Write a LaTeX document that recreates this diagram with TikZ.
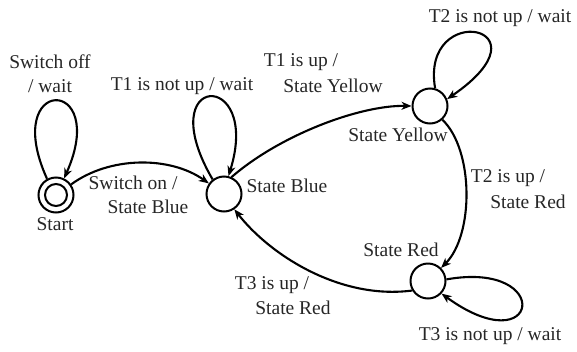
\documentclass[tikz,border=0pt]{standalone}
\usepackage{fontspec}
\setmainfont{Liberation Serif}
\usetikzlibrary{arrows.meta}
\begin{document}
\begin{tikzpicture}[x=1pt,y=-1pt,
  every node/.style={font=\fontsize{19.5}{22}\selectfont, inner sep=0pt},
  statebox/.style={circle, draw, line width=2pt, minimum size=35pt},
  lbl/.style={text=black!85},
  arr/.style={line width=2.1pt, -{Stealth[length=10pt,width=8pt,inset=3pt]}}]
\useasboundingbox (0,0) rectangle (577,351);
% states
\node[statebox] (start) at (56,195) {};
\node[circle, draw, line width=2pt, minimum size=22pt] (startin) at (start) {};
\node[statebox] (blue) at (224,194) {};
\node[statebox] (yellow) at (430,106) {};
\node[statebox] (red) at (428,281) {};
% state labels
\node[lbl] (lstart) at (55,224) {Start};
\node[lbl] (lblue) at (287,186) {State Blue};
\node[lbl] (lyellow) at (398,135) {State Yellow};
\node[lbl] (lred) at (401,250) {State Red};
% transition labels
\node[lbl] (t0a) at (50,62) {Switch off};
\node[lbl] (t0b) at (50,86) {/ wait};
\node[lbl] (t1a) at (133,183) {Switch on /};
\node[lbl] (t1b) at (148,207) {State Blue};
\node[lbl] (t2) at (182,86) {T1 is not up / wait};
\node[lbl] (t3a) at (301,62) {T1 is up /};
\node[lbl] (t3b) at (333,86) {State Yellow};
\node[lbl] (t4) at (500,18) {T2 is not up / wait};
\node[lbl] (t5a) at (508,178) {T2 is up /};
\node[lbl] (t5b) at (528,202) {State Red};
\node[lbl] (t6a) at (272,285) {T3 is up /};
\node[lbl] (t6b) at (293,308) {State Red};
\node[lbl] (t7) at (490,336) {T3 is not up / wait};
% transitions
\draw[arr] (start.119) .. controls (0,75) and (110,75) .. (start.64);
\draw[arr] (start.35) .. controls (110,156) and (170,156) .. (blue.145);
\draw[arr] (blue.128) .. controls (150,72) and (262,68) .. (blue.76);
\draw[arr] (blue.66) .. controls (280,135) and (360,105) .. (yellow.180);
\draw[arr] (yellow.74) .. controls (420,0) and (555,25) .. (yellow.22);
\draw[arr] (yellow.-48) .. controls (474,150) and (474,235) .. (red.45);
\draw[arr] (red.5) .. controls (555,260) and (540,365) .. (red.-43);
\draw[arr] (red.211) .. controls (340,300) and (270,255) .. (blue.-56);
\end{tikzpicture}
\end{document}
